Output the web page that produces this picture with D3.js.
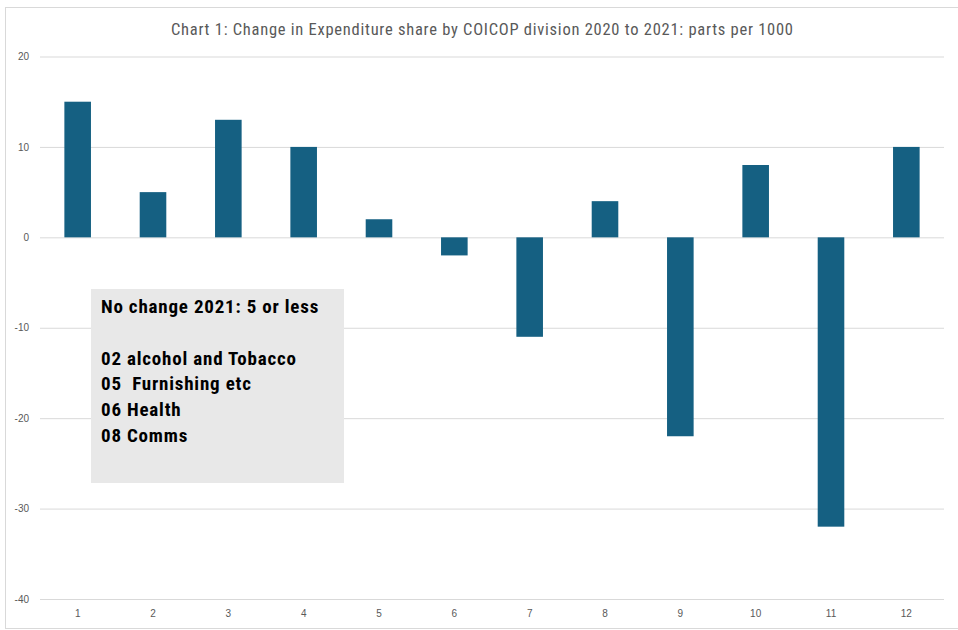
<!DOCTYPE html>
<html>
<head>
<meta charset="utf-8">
<script src="https://cdn.jsdelivr.net/npm/d3@7"></script>
<style>
  body { margin: 0; background: #fff; }
  svg { display: block; }
</style>
</head>
<body>
<div id="chart"></div>
<script>
// chart data
const divisions = ["1", "2", "3", "4", "5", "6", "7", "8", "9", "10", "11", "12"];
const changes = [15, 5, 13, 10, 2, -2, -11, 4, -22, 8, -32, 10];
const yTicks = [20, 10, 0, -10, -20, -30, -40];
const titleText = "Chart 1: Change in Expenditure share by COICOP division 2020 to 2021: parts per 1000";
const noteLines = ["No change 2021: 5 or less", "", "02 alcohol and Tobacco", "05  Furnishing etc", "06 Health", "08 Comms"];

const W = 958, H = 630;
const margin = {top: 56.5, right: 14, bottom: 31, left: 40};
const width = W - margin.left - margin.right;
const height = H - margin.top - margin.bottom;

const svg = d3.select("#chart").append("svg")
  .attr("width", W).attr("height", H);

// outer chart frame
svg.append("rect")
  .attr("x", 5.5).attr("y", 7.5)
  .attr("width", W - 5).attr("height", H - 9)
  .attr("fill", "#fff").attr("stroke", "#d9d9d9");

svg.append("text")
  .attr("x", 171).attr("y", 35)
  .attr("textLength", 622)
  .style("font-family", "'Roboto Condensed', 'Liberation Sans Narrow', 'Liberation Sans', sans-serif")
  .style("font-size", "16.5px")
  .style("fill", "#595959")
  .text(titleText);

const g = svg.append("g")
  .attr("transform", "translate(" + margin.left + "," + margin.top + ")");

const x = d3.scaleBand().domain(divisions).range([0, width]);
const y = d3.scaleLinear().domain([-40, 20]).range([height, 0]);

// gridlines
g.append("g")
  .call(d3.axisLeft(y).tickValues(yTicks).tickSize(-width).tickFormat(""))
  .call(a => a.select(".domain").remove())
  .call(a => a.selectAll("line").attr("stroke", "#d9d9d9"));

// y labels
g.append("g")
  .call(d3.axisLeft(y).tickValues(yTicks).tickSize(0).tickPadding(11).tickFormat(d => String(d)))
  .call(a => a.select(".domain").remove())
  .call(a => a.selectAll("text")
    .style("font-family", "'Liberation Sans', Arial, sans-serif")
    .style("font-size", "10px")
    .style("fill", "#595959"));

// x labels
g.append("g")
  .attr("transform", "translate(0," + height + ")")
  .call(d3.axisBottom(x).tickSize(0).tickPadding(11))
  .call(a => a.select(".domain").remove())
  .call(a => a.selectAll("text")
    .style("font-family", "'Liberation Sans', Arial, sans-serif")
    .style("font-size", "10px")
    .style("fill", "#595959"));

// bars
const barW = x.bandwidth() * 0.353;
g.append("g").selectAll("rect")
  .data(changes)
  .enter().append("rect")
  .attr("x", (d, i) => x(divisions[i]) + (x.bandwidth() - barW) / 2)
  .attr("y", d => y(Math.max(0, d)))
  .attr("width", barW)
  .attr("height", d => Math.abs(y(d) - y(0)))
  .attr("fill", "#156082");

// note box
const note = svg.append("g").attr("transform", "translate(91,289)");
note.append("rect")
  .attr("width", 253).attr("height", 194)
  .attr("fill", "#e8e8e8");
note.selectAll("text")
  .data(noteLines)
  .enter().append("text")
  .attr("x", 10)
  .attr("y", (d, i) => 24 + i * 25.8)
  .attr("xml:space", "preserve")
  .style("white-space", "pre")
  .style("font-family", "'Roboto Condensed', 'Liberation Sans Narrow', 'Liberation Sans', sans-serif")
  .style("font-weight", "bold")
  .style("font-size", "19px")
  .style("letter-spacing", "0.8px")
  .style("fill", "#000")
  .text(d => d);
</script>
</body>
</html>
